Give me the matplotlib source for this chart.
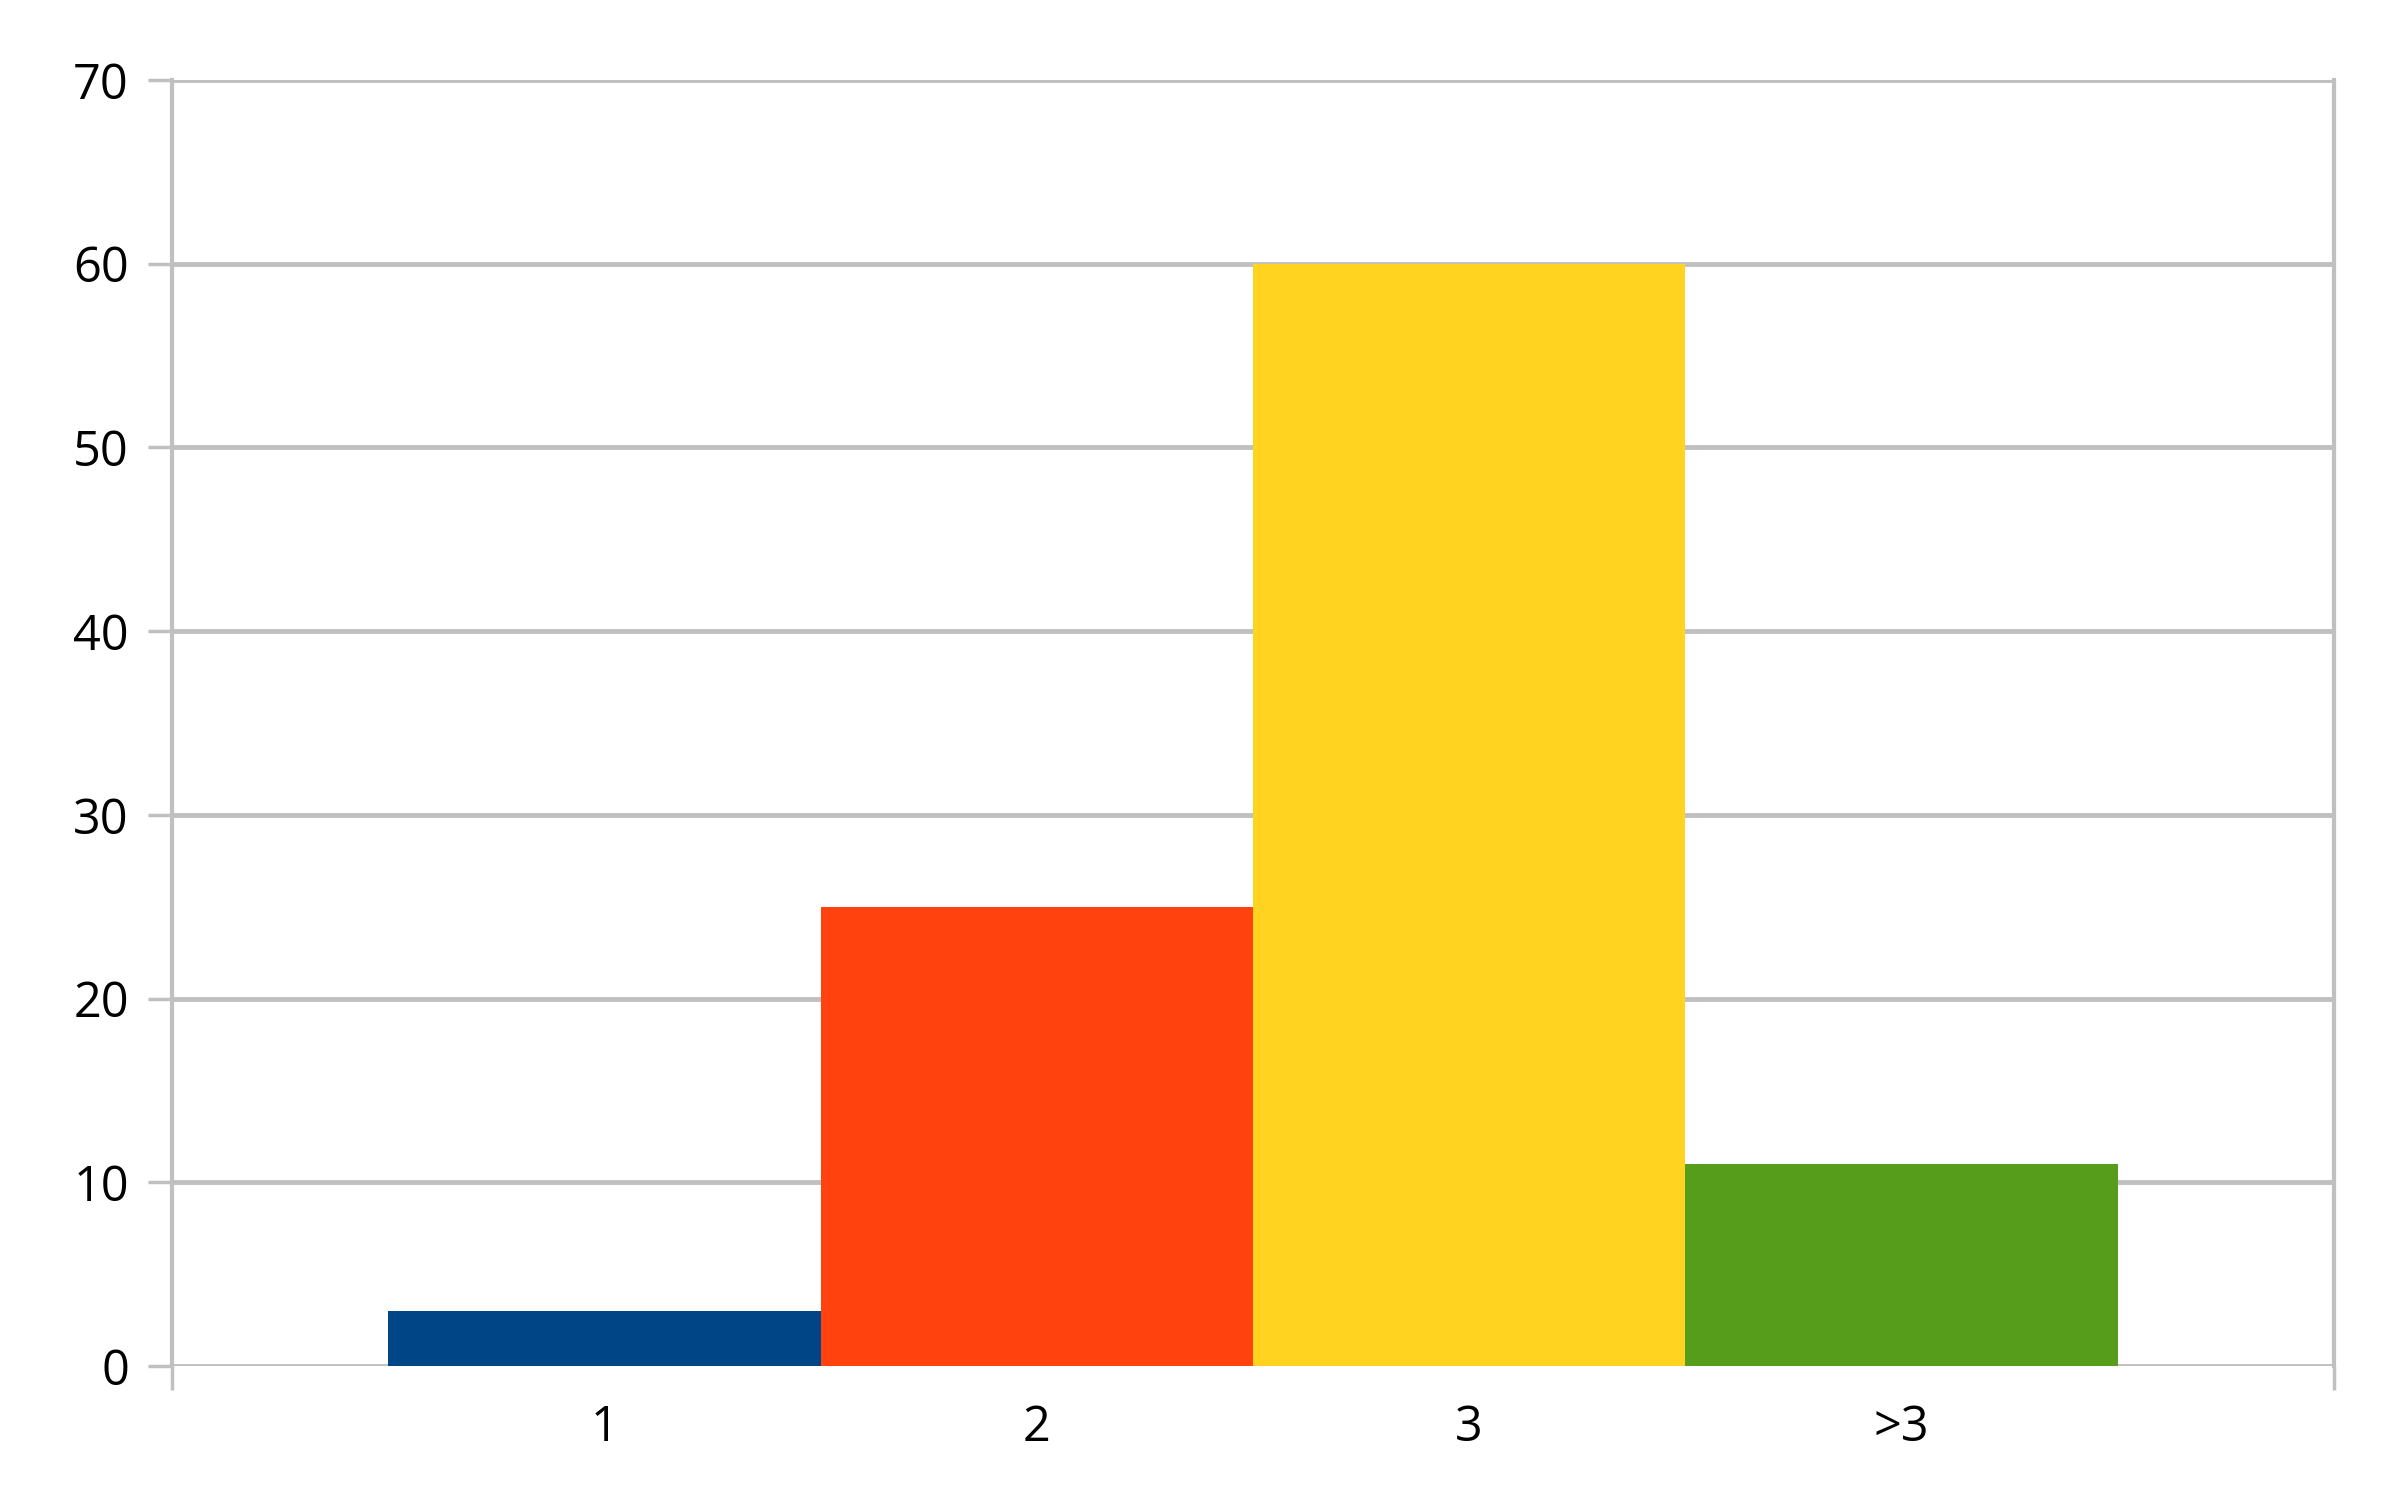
import matplotlib
matplotlib.use("Agg")
from matplotlib import pyplot as plt

categories = ["1", "2", "3", ">3"]
values = [3, 25, 60, 11]
colors = ["#004586", "#ff420e", "#ffd320", "#579d1c"]

GRID = "#c0c0c0"

plt.rcParams["font.family"] = ["Open Sans", "DejaVu Sans"]

fig = plt.figure(figsize=(24.06, 14.98), dpi=100)
ax = fig.add_axes([172 / 2406, 1 - 1366 / 1498, (2334 - 172) / 2406, (1366 - 80) / 1498])

pos = list(range(len(categories)))
ax.bar(pos, values, width=1.0, color=colors, zorder=3)

ax.set_xlim(-1, len(categories))
ax.set_ylim(0, 70)
ax.set_yticks(range(0, 71, 10))
ax.set_xticks(pos)
ax.set_xticklabels(categories)
ax.set_xticks([-1, len(categories)], minor=True)

ax.yaxis.grid(True, color=GRID, linewidth=3.5, zorder=0)
ax.set_axisbelow(True)

for side in ["top", "bottom"]:
    ax.spines[side].set_visible(False)
for side in ["left", "right"]:
    ax.spines[side].set_color(GRID)
    ax.spines[side].set_linewidth(3)

ax.tick_params(axis="y", length=17, width=2.5, color=GRID, labelsize=35, pad=14)
ax.tick_params(axis="x", which="major", length=0, labelsize=35, pad=27)
ax.tick_params(axis="x", which="minor", length=17, width=2.5, color=GRID)

fig.savefig("out.png", dpi=100)
